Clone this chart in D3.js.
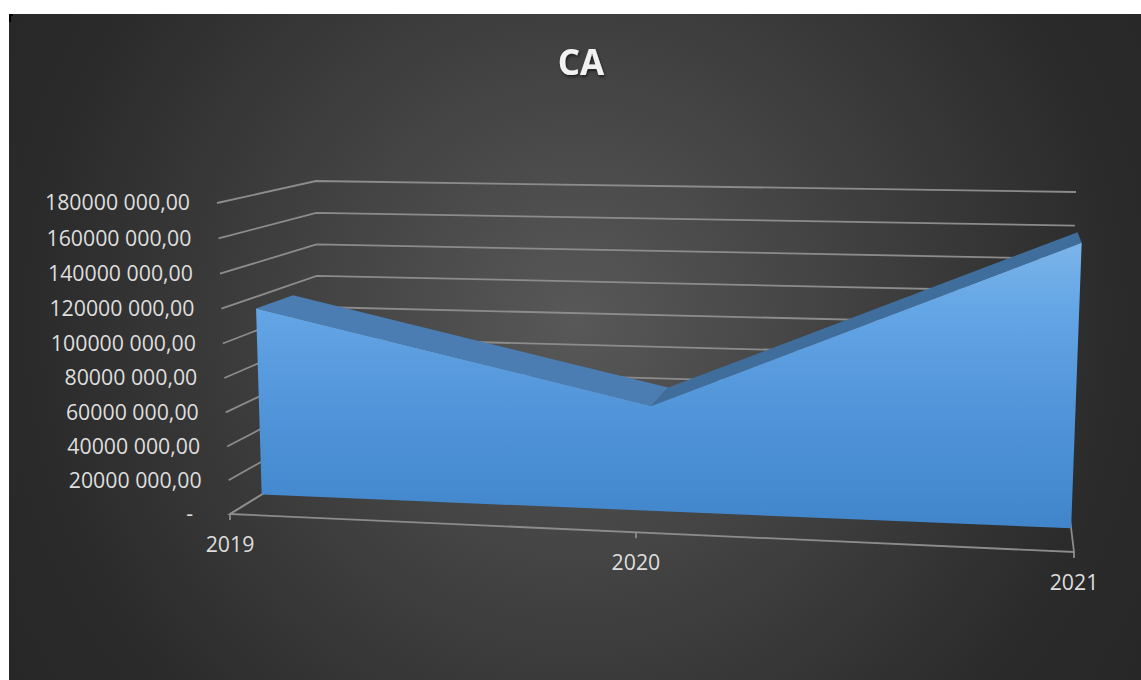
<!DOCTYPE html>
<html><head><meta charset="utf-8">
<script src="https://cdn.jsdelivr.net/npm/d3@7"></script>
<style>
html,body{margin:0;padding:0;background:#fff;overflow:hidden}
svg{display:block}
text{font-family:"Open Sans","Noto Sans",sans-serif}
</style></head><body>
<svg id="chart" width="1141" height="680"></svg>
<script>
// ---------- data ----------
const chartTitle = "CA";
const categories = ["2019", "2020", "2021"];
const seriesValues = [113000000, 62000000, 160000000];
const tickValues = [0, 20000000, 40000000, 60000000, 80000000, 100000000, 120000000, 140000000, 160000000, 180000000];
const tickLabels = ["-", "20000 000,00", "40000 000,00", "60000 000,00", "80000 000,00", "100000 000,00", "120000 000,00", "140000 000,00", "160000 000,00", "180000 000,00"];

// ---------- layout ----------
const svg = d3.select("#chart");
const defs = svg.append("defs");

const bg = defs.append("radialGradient").attr("id", "bg")
  .attr("gradientUnits", "userSpaceOnUse").attr("cx", 575).attr("cy", 320).attr("r", 720);
bg.append("stop").attr("offset", 0).attr("stop-color", "#585858");
bg.append("stop").attr("offset", 0.75).attr("stop-color", "#2b2b2b");
bg.append("stop").attr("offset", 1).attr("stop-color", "#252525");

const fg = defs.append("linearGradient").attr("id", "front")
  .attr("gradientUnits", "userSpaceOnUse").attr("x1", 0).attr("x2", 0).attr("y1", 240).attr("y2", 530);
[[0, "#7cb5ea"], [0.25, "#63a5e5"], [0.55, "#5396da"], [1, "#4085ca"]].forEach(([o, c]) =>
  fg.append("stop").attr("offset", o).attr("stop-color", c));

const sh = defs.append("filter").attr("id", "shadow").attr("x", "-20%").attr("y", "-20%").attr("width", "140%").attr("height", "160%");
sh.append("feDropShadow").attr("dx", 1).attr("dy", 2).attr("stdDeviation", 1.5)
  .attr("flood-color", "#000").attr("flood-opacity", 0.55);

svg.append("rect").attr("x", 9).attr("y", 14).attr("width", 1132).attr("height", 666).attr("fill", "url(#bg)");
svg.append("path").attr("d", "M10,22V15H13").attr("fill", "none").attr("stroke", "#000").attr("stroke-width", 2);

// 3D projection: normalized (u: category, v: value, w: depth) -> screen
const persp = k => t => (1 + k) * t / (1 + k * t);
const px = persp(-0.0732), py = persp(-0.0289);
const corners = {
  front: { bottom: [[230, 514], [1074, 552]], top: [[217, 203], [1087, 214]] },
  back:  { bottom: [[318, 460], [1066, 486]], top: [[316, 181], [1076, 192]] }
};
const lerp = (a, b, t) => [a[0] + (b[0] - a[0]) * t, a[1] + (b[1] - a[1]) * t];
function P(u, v, w) {
  const U = px(u), V = py(v);
  const plane = c => lerp(lerp(c.bottom[0], c.bottom[1], U), lerp(c.top[0], c.top[1], U), V);
  return lerp(plane(corners.front), plane(corners.back), w);
}

const xScale = d3.scalePoint().domain(categories).range([0, 1]);
const yScale = d3.scaleLinear().domain([0, 180000000]).range([0, 1]);
const zFront = 0.36, zBack = 0.75;
const line = d3.line();

// ---------- walls / gridlines ----------
const grid = svg.append("g").attr("fill", "none").attr("stroke", "#8c8c8c").attr("stroke-width", 1.8);
tickValues.forEach(t => {
  const v = yScale(t);
  grid.append("path").attr("d", line([P(0, v, 0), P(0, v, 1), P(1, v, 1)]));
});
// floor outline
grid.append("path").attr("d", line([P(0, 0, 0), P(1, 0, 0), P(1, 0, 1), P(0, 0, 1)]) + "Z");
// category ticks
categories.forEach(c => {
  const p = P(xScale(c), 0, 0);
  grid.append("path").attr("d", line([p, [p[0], p[1] + 6]]));
});

// ---------- area ----------
const pts = categories.map((c, i) => ({ u: xScale(c), v: yScale(seriesValues[i]) }));
const area = svg.append("g");
for (let i = 0; i < pts.length - 1; i++) {
  const a = pts[i], b = pts[i + 1];
  area.append("path")
    .attr("d", line([P(a.u, a.v, zFront), P(b.u, b.v, zFront), P(b.u, b.v, zBack), P(a.u, a.v, zBack)]) + "Z")
    .attr("fill", b.v < a.v ? "#4b7db2" : "#406e9c");
}
area.append("path")
  .attr("d", line([P(0, 0, zFront), ...pts.map(p => P(p.u, p.v, zFront)), P(1, 0, zFront)]) + "Z")
  .attr("fill", "url(#front)");

// ---------- labels ----------
const lab = svg.append("g").attr("fill", "#dedede").attr("font-size", "21.3px");
tickValues.forEach((t, i) => {
  const p = P(0, yScale(t), 0);
  lab.append("text").attr("x", p[0] - 27 - (tickLabels[i] === "-" ? 10 : 0)).attr("y", p[1])
    .attr("dy", "0.35em").attr("text-anchor", "end").text(tickLabels[i]);
});
categories.forEach(c => {
  const p = P(xScale(c), 0, 0);
  lab.append("text").attr("x", p[0]).attr("y", p[1] + 38).attr("text-anchor", "middle").text(c);
});

svg.append("text").attr("x", 581).attr("y", 75).attr("text-anchor", "middle")
  .attr("font-size", "35px").attr("font-weight", "bold").attr("fill", "#f2f2f2")
  .attr("filter", "url(#shadow)").text(chartTitle);
</script>
</body></html>
